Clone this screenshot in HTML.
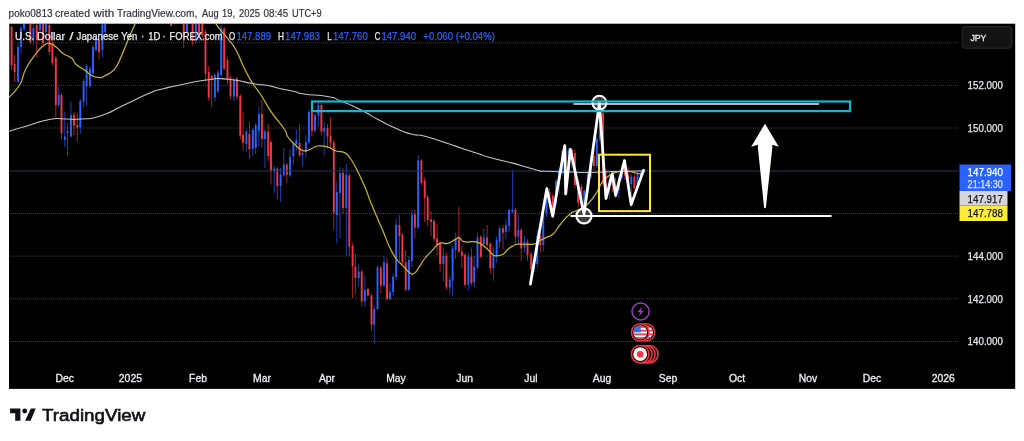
<!DOCTYPE html>
<html lang="en"><head><meta charset="utf-8"><title>USDJPY chart</title>
<style>html,body{margin:0;padding:0;background:#fff;}body{width:1024px;height:441px;overflow:hidden;position:relative;font-family:'Liberation Sans', Arial, sans-serif;}svg{display:block;position:absolute;left:0;top:0}text{font-family:'Liberation Sans', Arial, sans-serif;}</style></head><body>
<svg width="1024" height="441" viewBox="0 0 1024 441">
<rect x="0" y="0" width="1024" height="441" fill="#fff"/>
<text y="17.1" font-size="10.1" fill="#2a2e39" stroke="#2a2e39" stroke-width="0.15"><tspan x="8.6" textLength="43.9" lengthAdjust="spacingAndGlyphs">poko0813</tspan> <tspan x="55.1" textLength="34.9" lengthAdjust="spacingAndGlyphs">created</tspan> <tspan x="93.3" textLength="20.9" lengthAdjust="spacingAndGlyphs">with</tspan> <tspan x="117.1" textLength="80.2" lengthAdjust="spacingAndGlyphs">TradingView.com,</tspan> <tspan x="202.1" textLength="16.5" lengthAdjust="spacingAndGlyphs">Aug</tspan> <tspan x="222.1" textLength="13.1" lengthAdjust="spacingAndGlyphs">19,</tspan> <tspan x="239.1" textLength="21.0" lengthAdjust="spacingAndGlyphs">2025</tspan> <tspan x="263.6" textLength="24.7" lengthAdjust="spacingAndGlyphs">08:45</tspan> <tspan x="292.1" textLength="29.5" lengthAdjust="spacingAndGlyphs">UTC+9</tspan></text>
<rect x="9" y="23.7" width="1006.2" height="365.2" fill="#000"/>
<defs><clipPath id="cp"><rect x="9" y="24" width="950" height="365"/></clipPath></defs>
<line x1="9" y1="42.8" x2="959" y2="42.8" stroke="#3e3e3e" stroke-width="1" stroke-dasharray="1 1"/>
<line x1="9" y1="85.4" x2="959" y2="85.4" stroke="#3e3e3e" stroke-width="1" stroke-dasharray="1 1"/>
<line x1="9" y1="128" x2="959" y2="128" stroke="#3e3e3e" stroke-width="1" stroke-dasharray="1 1"/>
<line x1="9" y1="213.5" x2="959" y2="213.5" stroke="#3e3e3e" stroke-width="1" stroke-dasharray="1 1"/>
<line x1="9" y1="256.1" x2="959" y2="256.1" stroke="#3e3e3e" stroke-width="1" stroke-dasharray="1 1"/>
<line x1="9" y1="298.8" x2="959" y2="298.8" stroke="#3e3e3e" stroke-width="1" stroke-dasharray="1 1"/>
<line x1="9" y1="341.5" x2="959" y2="341.5" stroke="#3e3e3e" stroke-width="1" stroke-dasharray="1 1"/>
<g clip-path="url(#cp)">
<g>
<rect x="9" y="23.7" width="0.9" height="68" fill="#2962ff" opacity="0.75"/>
<line x1="11.6" y1="26.0" x2="11.6" y2="70.0" stroke="#f23645" stroke-width="0.9" opacity="0.75"/>
<rect x="10.65" y="27.0" width="1.9" height="38.0" fill="#f23645"/>
<line x1="14.6" y1="55.0" x2="14.6" y2="82.0" stroke="#f23645" stroke-width="0.9" opacity="0.75"/>
<rect x="13.65" y="64.0" width="1.9" height="8.0" fill="#f23645"/>
<line x1="18.0" y1="43.6" x2="18.0" y2="82.6" stroke="#2962ff" stroke-width="0.9" opacity="0.75"/>
<rect x="17.05" y="47.0" width="1.9" height="35.0" fill="#2962ff"/>
<line x1="21.0" y1="26.0" x2="21.0" y2="54.0" stroke="#2962ff" stroke-width="0.9" opacity="0.75"/>
<rect x="20.05" y="28.0" width="1.9" height="19.0" fill="#2962ff"/>
<line x1="24.0" y1="20.0" x2="24.0" y2="31.0" stroke="#2962ff" stroke-width="0.9" opacity="0.75"/>
<rect x="23.05" y="20.0" width="1.9" height="9.0" fill="#2962ff"/>
<line x1="30.4" y1="20.0" x2="30.4" y2="44.0" stroke="#f23645" stroke-width="0.9" opacity="0.75"/>
<rect x="29.45" y="20.0" width="1.9" height="22.0" fill="#f23645"/>
<line x1="33.4" y1="24.0" x2="33.4" y2="45.0" stroke="#2962ff" stroke-width="0.9" opacity="0.75"/>
<rect x="32.45" y="28.0" width="1.9" height="11.0" fill="#2962ff"/>
<line x1="36.7" y1="22.0" x2="36.7" y2="57.0" stroke="#f23645" stroke-width="0.9" opacity="0.75"/>
<rect x="35.75" y="25.0" width="1.9" height="15.0" fill="#f23645"/>
<line x1="40.0" y1="20.0" x2="40.0" y2="33.0" stroke="#2962ff" stroke-width="0.9" opacity="0.75"/>
<rect x="39.05" y="20.0" width="1.9" height="10.0" fill="#2962ff"/>
<line x1="43.0" y1="20.0" x2="43.0" y2="45.0" stroke="#f23645" stroke-width="0.9" opacity="0.75"/>
<rect x="42.05" y="20.0" width="1.9" height="23.0" fill="#f23645"/>
<line x1="46.0" y1="20.0" x2="46.0" y2="34.0" stroke="#2962ff" stroke-width="0.9" opacity="0.75"/>
<rect x="45.05" y="20.0" width="1.9" height="12.0" fill="#2962ff"/>
<line x1="49.4" y1="22.0" x2="49.4" y2="55.0" stroke="#f23645" stroke-width="0.9" opacity="0.75"/>
<rect x="48.45" y="25.0" width="1.9" height="27.0" fill="#f23645"/>
<line x1="52.4" y1="40.0" x2="52.4" y2="65.0" stroke="#f23645" stroke-width="0.9" opacity="0.75"/>
<rect x="51.45" y="43.0" width="1.9" height="20.0" fill="#f23645"/>
<line x1="55.8" y1="56.0" x2="55.8" y2="117.4" stroke="#f23645" stroke-width="0.9" opacity="0.75"/>
<rect x="54.85" y="58.0" width="1.9" height="47.0" fill="#f23645"/>
<line x1="58.7" y1="87.0" x2="58.7" y2="107.0" stroke="#2962ff" stroke-width="0.9" opacity="0.75"/>
<rect x="57.75" y="95.0" width="1.9" height="10.0" fill="#2962ff"/>
<line x1="61.5" y1="93.0" x2="61.5" y2="139.0" stroke="#f23645" stroke-width="0.9" opacity="0.75"/>
<rect x="60.55" y="95.0" width="1.9" height="38.0" fill="#f23645"/>
<line x1="64.8" y1="111.5" x2="64.8" y2="147.0" stroke="#2962ff" stroke-width="0.9" opacity="0.75"/>
<rect x="63.85" y="136.5" width="1.9" height="3.5" fill="#2962ff"/>
<line x1="67.5" y1="123.0" x2="67.5" y2="156.5" stroke="#2962ff" stroke-width="0.9" opacity="0.75"/>
<rect x="66.55" y="131.0" width="1.9" height="2.0" fill="#2962ff"/>
<line x1="71.0" y1="101.6" x2="71.0" y2="137.0" stroke="#2962ff" stroke-width="0.9" opacity="0.75"/>
<rect x="70.05" y="115.0" width="1.9" height="21.5" fill="#2962ff"/>
<line x1="74.0" y1="111.6" x2="74.0" y2="135.0" stroke="#f23645" stroke-width="0.9" opacity="0.75"/>
<rect x="73.05" y="115.0" width="1.9" height="10.7" fill="#f23645"/>
<line x1="77.3" y1="113.0" x2="77.3" y2="141.5" stroke="#f23645" stroke-width="0.9" opacity="0.75"/>
<rect x="76.35" y="125.0" width="1.9" height="2.4" fill="#f23645"/>
<line x1="80.3" y1="99.0" x2="80.3" y2="134.0" stroke="#2962ff" stroke-width="0.9" opacity="0.75"/>
<rect x="79.35" y="100.8" width="1.9" height="26.6" fill="#2962ff"/>
<line x1="83.6" y1="79.0" x2="83.6" y2="107.4" stroke="#2962ff" stroke-width="0.9" opacity="0.75"/>
<rect x="82.65" y="81.0" width="1.9" height="20.6" fill="#2962ff"/>
<line x1="86.6" y1="64.0" x2="86.6" y2="105.8" stroke="#2962ff" stroke-width="0.9" opacity="0.75"/>
<rect x="85.65" y="66.0" width="1.9" height="20.0" fill="#2962ff"/>
<line x1="90.0" y1="66.0" x2="90.0" y2="88.0" stroke="#2962ff" stroke-width="0.9" opacity="0.75"/>
<rect x="89.05" y="68.5" width="1.9" height="17.5" fill="#2962ff"/>
<line x1="93.0" y1="45.0" x2="93.0" y2="75.0" stroke="#2962ff" stroke-width="0.9" opacity="0.75"/>
<rect x="92.05" y="47.0" width="1.9" height="26.5" fill="#2962ff"/>
<line x1="96.0" y1="35.0" x2="96.0" y2="52.0" stroke="#2962ff" stroke-width="0.9" opacity="0.75"/>
<rect x="95.05" y="37.0" width="1.9" height="13.0" fill="#2962ff"/>
<line x1="99.0" y1="38.0" x2="99.0" y2="59.4" stroke="#f23645" stroke-width="0.9" opacity="0.75"/>
<rect x="98.05" y="40.0" width="1.9" height="12.0" fill="#f23645"/>
<line x1="102.4" y1="22.0" x2="102.4" y2="57.0" stroke="#2962ff" stroke-width="0.9" opacity="0.75"/>
<rect x="101.45" y="24.5" width="1.9" height="25.5" fill="#2962ff"/>
<line x1="105.2" y1="20.0" x2="105.2" y2="34.0" stroke="#2962ff" stroke-width="0.9" opacity="0.75"/>
<rect x="104.25" y="20.0" width="1.9" height="12.0" fill="#2962ff"/>
<line x1="171.0" y1="20.0" x2="171.0" y2="26.0" stroke="#f23645" stroke-width="0.9" opacity="0.75"/>
<rect x="170.05" y="20.0" width="1.9" height="6.0" fill="#f23645"/>
<line x1="183.7" y1="20.0" x2="183.7" y2="47.7" stroke="#f23645" stroke-width="0.9" opacity="0.75"/>
<rect x="182.75" y="20.0" width="1.9" height="15.3" fill="#f23645"/>
<line x1="187.0" y1="20.0" x2="187.0" y2="33.0" stroke="#2962ff" stroke-width="0.9" opacity="0.75"/>
<rect x="186.05" y="20.0" width="1.9" height="11.8" fill="#2962ff"/>
<line x1="192.6" y1="20.0" x2="192.6" y2="45.4" stroke="#f23645" stroke-width="0.9" opacity="0.75"/>
<rect x="191.65" y="20.0" width="1.9" height="20.6" fill="#f23645"/>
<line x1="195.8" y1="20.0" x2="195.8" y2="43.6" stroke="#2962ff" stroke-width="0.9" opacity="0.75"/>
<rect x="194.85" y="20.0" width="1.9" height="20.6" fill="#2962ff"/>
<line x1="199.0" y1="20.0" x2="199.0" y2="41.8" stroke="#f23645" stroke-width="0.9" opacity="0.75"/>
<rect x="198.05" y="20.0" width="1.9" height="14.0" fill="#f23645"/>
<line x1="202.3" y1="20.0" x2="202.3" y2="37.0" stroke="#f23645" stroke-width="0.9" opacity="0.75"/>
<rect x="201.35" y="20.0" width="1.9" height="15.3" fill="#f23645"/>
<line x1="205.5" y1="30.0" x2="205.5" y2="82.0" stroke="#f23645" stroke-width="0.9" opacity="0.75"/>
<rect x="204.55" y="31.8" width="1.9" height="41.7" fill="#f23645"/>
<line x1="208.7" y1="66.0" x2="208.7" y2="100.8" stroke="#f23645" stroke-width="0.9" opacity="0.75"/>
<rect x="207.75" y="72.0" width="1.9" height="25.5" fill="#f23645"/>
<line x1="211.7" y1="75.0" x2="211.7" y2="107.4" stroke="#f23645" stroke-width="0.9" opacity="0.75"/>
<rect x="210.75" y="76.0" width="1.9" height="4.0" fill="#f23645"/>
<line x1="214.9" y1="73.0" x2="214.9" y2="101.6" stroke="#2962ff" stroke-width="0.9" opacity="0.75"/>
<rect x="213.95" y="75.0" width="1.9" height="22.5" fill="#2962ff"/>
<line x1="217.9" y1="70.0" x2="217.9" y2="93.0" stroke="#2962ff" stroke-width="0.9" opacity="0.75"/>
<rect x="216.95" y="72.6" width="1.9" height="19.0" fill="#2962ff"/>
<line x1="221.2" y1="25.0" x2="221.2" y2="77.0" stroke="#2962ff" stroke-width="0.9" opacity="0.75"/>
<rect x="220.25" y="28.0" width="1.9" height="47.0" fill="#2962ff"/>
<line x1="224.2" y1="27.0" x2="224.2" y2="70.0" stroke="#f23645" stroke-width="0.9" opacity="0.75"/>
<rect x="223.25" y="28.6" width="1.9" height="39.9" fill="#f23645"/>
<line x1="227.5" y1="58.0" x2="227.5" y2="84.0" stroke="#f23645" stroke-width="0.9" opacity="0.75"/>
<rect x="226.55" y="60.0" width="1.9" height="20.0" fill="#f23645"/>
<line x1="230.5" y1="76.0" x2="230.5" y2="99.0" stroke="#f23645" stroke-width="0.9" opacity="0.75"/>
<rect x="229.55" y="77.6" width="1.9" height="18.2" fill="#f23645"/>
<line x1="234.0" y1="78.0" x2="234.0" y2="101.0" stroke="#2962ff" stroke-width="0.9" opacity="0.75"/>
<rect x="233.05" y="80.0" width="1.9" height="16.6" fill="#2962ff"/>
<line x1="237.0" y1="77.0" x2="237.0" y2="100.0" stroke="#f23645" stroke-width="0.9" opacity="0.75"/>
<rect x="236.05" y="78.5" width="1.9" height="18.1" fill="#f23645"/>
<line x1="240.3" y1="94.0" x2="240.3" y2="139.8" stroke="#f23645" stroke-width="0.9" opacity="0.75"/>
<rect x="239.35" y="95.8" width="1.9" height="39.9" fill="#f23645"/>
<line x1="243.1" y1="112.0" x2="243.1" y2="150.6" stroke="#f23645" stroke-width="0.9" opacity="0.75"/>
<rect x="242.15" y="135.0" width="1.9" height="8.0" fill="#f23645"/>
<line x1="246.4" y1="129.0" x2="246.4" y2="151.5" stroke="#2962ff" stroke-width="0.9" opacity="0.75"/>
<rect x="245.45" y="131.5" width="1.9" height="12.5" fill="#2962ff"/>
<line x1="249.4" y1="121.5" x2="249.4" y2="158.8" stroke="#f23645" stroke-width="0.9" opacity="0.75"/>
<rect x="248.45" y="134.0" width="1.9" height="15.0" fill="#f23645"/>
<line x1="252.8" y1="128.0" x2="252.8" y2="156.0" stroke="#2962ff" stroke-width="0.9" opacity="0.75"/>
<rect x="251.85" y="130.0" width="1.9" height="19.0" fill="#2962ff"/>
<line x1="255.7" y1="123.0" x2="255.7" y2="154.0" stroke="#2962ff" stroke-width="0.9" opacity="0.75"/>
<rect x="254.75" y="125.0" width="1.9" height="23.0" fill="#2962ff"/>
<line x1="258.9" y1="106.6" x2="258.9" y2="146.5" stroke="#2962ff" stroke-width="0.9" opacity="0.75"/>
<rect x="257.95" y="114.0" width="1.9" height="16.7" fill="#2962ff"/>
<line x1="261.9" y1="100.0" x2="261.9" y2="147.0" stroke="#f23645" stroke-width="0.9" opacity="0.75"/>
<rect x="260.95" y="114.0" width="1.9" height="25.0" fill="#f23645"/>
<line x1="264.9" y1="129.0" x2="264.9" y2="168.0" stroke="#2962ff" stroke-width="0.9" opacity="0.75"/>
<rect x="263.95" y="131.5" width="1.9" height="7.5" fill="#2962ff"/>
<line x1="268.2" y1="124.0" x2="268.2" y2="161.0" stroke="#f23645" stroke-width="0.9" opacity="0.75"/>
<rect x="267.25" y="131.5" width="1.9" height="24.5" fill="#f23645"/>
<line x1="271.0" y1="140.0" x2="271.0" y2="184.5" stroke="#f23645" stroke-width="0.9" opacity="0.75"/>
<rect x="270.05" y="142.0" width="1.9" height="29.0" fill="#f23645"/>
<line x1="274.3" y1="166.0" x2="274.3" y2="193.0" stroke="#2962ff" stroke-width="0.9" opacity="0.75"/>
<rect x="273.35" y="168.8" width="1.9" height="2.5" fill="#2962ff"/>
<line x1="277.3" y1="167.0" x2="277.3" y2="199.5" stroke="#f23645" stroke-width="0.9" opacity="0.75"/>
<rect x="276.35" y="168.8" width="1.9" height="17.2" fill="#f23645"/>
<line x1="280.6" y1="168.0" x2="280.6" y2="202.0" stroke="#2962ff" stroke-width="0.9" opacity="0.75"/>
<rect x="279.65" y="174.6" width="1.9" height="11.4" fill="#2962ff"/>
<line x1="283.8" y1="148.0" x2="283.8" y2="177.0" stroke="#2962ff" stroke-width="0.9" opacity="0.75"/>
<rect x="282.85" y="164.6" width="1.9" height="10.8" fill="#2962ff"/>
<line x1="286.8" y1="163.0" x2="286.8" y2="183.0" stroke="#f23645" stroke-width="0.9" opacity="0.75"/>
<rect x="285.85" y="164.6" width="1.9" height="10.0" fill="#f23645"/>
<line x1="290.0" y1="149.0" x2="290.0" y2="177.0" stroke="#2962ff" stroke-width="0.9" opacity="0.75"/>
<rect x="289.05" y="157.0" width="1.9" height="18.4" fill="#2962ff"/>
<line x1="293.4" y1="142.0" x2="293.4" y2="164.6" stroke="#2962ff" stroke-width="0.9" opacity="0.75"/>
<rect x="292.45" y="144.0" width="1.9" height="12.3" fill="#2962ff"/>
<line x1="296.3" y1="129.0" x2="296.3" y2="151.0" stroke="#2962ff" stroke-width="0.9" opacity="0.75"/>
<rect x="295.35" y="140.0" width="1.9" height="4.0" fill="#2962ff"/>
<line x1="299.6" y1="124.0" x2="299.6" y2="157.0" stroke="#f23645" stroke-width="0.9" opacity="0.75"/>
<rect x="298.65" y="143.0" width="1.9" height="12.5" fill="#f23645"/>
<line x1="302.6" y1="148.0" x2="302.6" y2="166.0" stroke="#2962ff" stroke-width="0.9" opacity="0.75"/>
<rect x="301.65" y="153.0" width="1.9" height="1.6" fill="#2962ff"/>
<line x1="305.9" y1="135.0" x2="305.9" y2="158.0" stroke="#2962ff" stroke-width="0.9" opacity="0.75"/>
<rect x="304.95" y="142.0" width="1.9" height="10.0" fill="#2962ff"/>
<line x1="308.9" y1="110.0" x2="308.9" y2="144.0" stroke="#2962ff" stroke-width="0.9" opacity="0.75"/>
<rect x="307.95" y="112.0" width="1.9" height="30.3" fill="#2962ff"/>
<line x1="311.9" y1="110.0" x2="311.9" y2="136.5" stroke="#f23645" stroke-width="0.9" opacity="0.75"/>
<rect x="310.95" y="112.0" width="1.9" height="18.7" fill="#f23645"/>
<line x1="315.0" y1="113.0" x2="315.0" y2="132.0" stroke="#2962ff" stroke-width="0.9" opacity="0.75"/>
<rect x="314.05" y="115.0" width="1.9" height="15.7" fill="#2962ff"/>
<line x1="318.4" y1="102.4" x2="318.4" y2="126.5" stroke="#2962ff" stroke-width="0.9" opacity="0.75"/>
<rect x="317.45" y="105.0" width="1.9" height="10.7" fill="#2962ff"/>
<line x1="321.4" y1="103.0" x2="321.4" y2="135.0" stroke="#f23645" stroke-width="0.9" opacity="0.75"/>
<rect x="320.45" y="105.0" width="1.9" height="26.5" fill="#f23645"/>
<line x1="324.2" y1="122.4" x2="324.2" y2="155.5" stroke="#2962ff" stroke-width="0.9" opacity="0.75"/>
<rect x="323.25" y="128.0" width="1.9" height="3.5" fill="#2962ff"/>
<line x1="327.5" y1="124.0" x2="327.5" y2="149.0" stroke="#f23645" stroke-width="0.9" opacity="0.75"/>
<rect x="326.55" y="128.0" width="1.9" height="8.5" fill="#f23645"/>
<line x1="330.5" y1="117.4" x2="330.5" y2="149.0" stroke="#f23645" stroke-width="0.9" opacity="0.75"/>
<rect x="329.55" y="135.7" width="1.9" height="7.3" fill="#f23645"/>
<line x1="333.8" y1="140.0" x2="333.8" y2="230.0" stroke="#f23645" stroke-width="0.9" opacity="0.75"/>
<rect x="332.85" y="142.3" width="1.9" height="70.5" fill="#f23645"/>
<line x1="336.8" y1="182.0" x2="336.8" y2="243.4" stroke="#2962ff" stroke-width="0.9" opacity="0.75"/>
<rect x="335.85" y="192.0" width="1.9" height="23.0" fill="#2962ff"/>
<line x1="340.0" y1="167.0" x2="340.0" y2="238.4" stroke="#2962ff" stroke-width="0.9" opacity="0.75"/>
<rect x="339.05" y="173.0" width="1.9" height="20.0" fill="#2962ff"/>
<line x1="343.0" y1="168.0" x2="343.0" y2="213.6" stroke="#f23645" stroke-width="0.9" opacity="0.75"/>
<rect x="342.05" y="173.0" width="1.9" height="34.8" fill="#f23645"/>
<line x1="346.3" y1="163.8" x2="346.3" y2="255.9" stroke="#2962ff" stroke-width="0.9" opacity="0.75"/>
<rect x="345.35" y="174.6" width="1.9" height="33.2" fill="#2962ff"/>
<line x1="349.3" y1="173.0" x2="349.3" y2="256.0" stroke="#f23645" stroke-width="0.9" opacity="0.75"/>
<rect x="348.35" y="175.4" width="1.9" height="71.3" fill="#f23645"/>
<line x1="352.6" y1="242.6" x2="352.6" y2="298.0" stroke="#f23645" stroke-width="0.9" opacity="0.75"/>
<rect x="351.65" y="246.0" width="1.9" height="20.6" fill="#f23645"/>
<line x1="355.4" y1="254.0" x2="355.4" y2="294.0" stroke="#f23645" stroke-width="0.9" opacity="0.75"/>
<rect x="354.45" y="266.6" width="1.9" height="11.4" fill="#f23645"/>
<line x1="358.7" y1="264.0" x2="358.7" y2="286.5" stroke="#2962ff" stroke-width="0.9" opacity="0.75"/>
<rect x="357.75" y="271.6" width="1.9" height="6.4" fill="#2962ff"/>
<line x1="361.7" y1="270.0" x2="361.7" y2="306.4" stroke="#f23645" stroke-width="0.9" opacity="0.75"/>
<rect x="360.75" y="271.6" width="1.9" height="29.8" fill="#f23645"/>
<line x1="364.9" y1="275.7" x2="364.9" y2="307.0" stroke="#2962ff" stroke-width="0.9" opacity="0.75"/>
<rect x="363.95" y="289.8" width="1.9" height="11.6" fill="#2962ff"/>
<line x1="367.9" y1="288.0" x2="367.9" y2="296.5" stroke="#f23645" stroke-width="0.9" opacity="0.75"/>
<rect x="366.95" y="289.0" width="1.9" height="6.6" fill="#f23645"/>
<line x1="371.5" y1="294.0" x2="371.5" y2="331.3" stroke="#f23645" stroke-width="0.9" opacity="0.75"/>
<rect x="370.55" y="295.6" width="1.9" height="29.1" fill="#f23645"/>
<line x1="374.2" y1="305.6" x2="374.2" y2="343.8" stroke="#2962ff" stroke-width="0.9" opacity="0.75"/>
<rect x="373.25" y="309.0" width="1.9" height="15.7" fill="#2962ff"/>
<line x1="377.5" y1="265.0" x2="377.5" y2="310.0" stroke="#2962ff" stroke-width="0.9" opacity="0.75"/>
<rect x="376.55" y="267.5" width="1.9" height="41.5" fill="#2962ff"/>
<line x1="380.8" y1="266.0" x2="380.8" y2="293.0" stroke="#f23645" stroke-width="0.9" opacity="0.75"/>
<rect x="379.85" y="267.5" width="1.9" height="18.1" fill="#f23645"/>
<line x1="384.0" y1="256.0" x2="384.0" y2="287.0" stroke="#2962ff" stroke-width="0.9" opacity="0.75"/>
<rect x="383.05" y="262.5" width="1.9" height="23.1" fill="#2962ff"/>
<line x1="387.0" y1="258.0" x2="387.0" y2="300.0" stroke="#f23645" stroke-width="0.9" opacity="0.75"/>
<rect x="386.05" y="263.3" width="1.9" height="35.7" fill="#f23645"/>
<line x1="390.0" y1="283.0" x2="390.0" y2="300.0" stroke="#2962ff" stroke-width="0.9" opacity="0.75"/>
<rect x="389.05" y="292.0" width="1.9" height="7.0" fill="#2962ff"/>
<line x1="393.1" y1="274.0" x2="393.1" y2="295.6" stroke="#2962ff" stroke-width="0.9" opacity="0.75"/>
<rect x="392.15" y="276.6" width="1.9" height="15.4" fill="#2962ff"/>
<line x1="396.1" y1="218.5" x2="396.1" y2="280.0" stroke="#2962ff" stroke-width="0.9" opacity="0.75"/>
<rect x="395.15" y="225.0" width="1.9" height="52.0" fill="#2962ff"/>
<line x1="399.4" y1="215.0" x2="399.4" y2="261.0" stroke="#f23645" stroke-width="0.9" opacity="0.75"/>
<rect x="398.45" y="225.0" width="1.9" height="11.0" fill="#f23645"/>
<line x1="402.4" y1="233.0" x2="402.4" y2="264.0" stroke="#f23645" stroke-width="0.9" opacity="0.75"/>
<rect x="401.45" y="235.0" width="1.9" height="27.5" fill="#f23645"/>
<line x1="405.7" y1="250.0" x2="405.7" y2="291.4" stroke="#f23645" stroke-width="0.9" opacity="0.75"/>
<rect x="404.75" y="262.5" width="1.9" height="27.3" fill="#f23645"/>
<line x1="408.9" y1="256.0" x2="408.9" y2="291.0" stroke="#2962ff" stroke-width="0.9" opacity="0.75"/>
<rect x="407.95" y="260.0" width="1.9" height="29.8" fill="#2962ff"/>
<line x1="411.9" y1="209.5" x2="411.9" y2="267.5" stroke="#2962ff" stroke-width="0.9" opacity="0.75"/>
<rect x="410.95" y="214.4" width="1.9" height="46.6" fill="#2962ff"/>
<line x1="414.9" y1="209.5" x2="414.9" y2="238.4" stroke="#f23645" stroke-width="0.9" opacity="0.75"/>
<rect x="413.95" y="214.4" width="1.9" height="13.2" fill="#f23645"/>
<line x1="418.2" y1="155.5" x2="418.2" y2="229.0" stroke="#2962ff" stroke-width="0.9" opacity="0.75"/>
<rect x="417.25" y="160.5" width="1.9" height="67.1" fill="#2962ff"/>
<line x1="421.4" y1="159.0" x2="421.4" y2="185.0" stroke="#f23645" stroke-width="0.9" opacity="0.75"/>
<rect x="420.45" y="160.5" width="1.9" height="22.5" fill="#f23645"/>
<line x1="424.7" y1="177.0" x2="424.7" y2="221.8" stroke="#f23645" stroke-width="0.9" opacity="0.75"/>
<rect x="423.75" y="180.4" width="1.9" height="17.4" fill="#f23645"/>
<line x1="427.7" y1="195.0" x2="427.7" y2="226.0" stroke="#f23645" stroke-width="0.9" opacity="0.75"/>
<rect x="426.75" y="197.0" width="1.9" height="23.0" fill="#f23645"/>
<line x1="431.0" y1="211.0" x2="431.0" y2="236.0" stroke="#f23645" stroke-width="0.9" opacity="0.75"/>
<rect x="430.05" y="219.4" width="1.9" height="2.6" fill="#f23645"/>
<line x1="434.0" y1="219.0" x2="434.0" y2="241.7" stroke="#f23645" stroke-width="0.9" opacity="0.75"/>
<rect x="433.05" y="221.0" width="1.9" height="18.0" fill="#f23645"/>
<line x1="437.1" y1="223.5" x2="437.1" y2="255.0" stroke="#f23645" stroke-width="0.9" opacity="0.75"/>
<rect x="436.15" y="238.4" width="1.9" height="6.6" fill="#f23645"/>
<line x1="440.1" y1="241.0" x2="440.1" y2="271.6" stroke="#f23645" stroke-width="0.9" opacity="0.75"/>
<rect x="439.15" y="243.4" width="1.9" height="20.6" fill="#f23645"/>
<line x1="443.4" y1="247.5" x2="443.4" y2="281.5" stroke="#2962ff" stroke-width="0.9" opacity="0.75"/>
<rect x="442.45" y="255.9" width="1.9" height="8.1" fill="#2962ff"/>
<line x1="446.4" y1="252.5" x2="446.4" y2="289.8" stroke="#f23645" stroke-width="0.9" opacity="0.75"/>
<rect x="445.45" y="255.9" width="1.9" height="31.4" fill="#f23645"/>
<line x1="449.8" y1="275.7" x2="449.8" y2="294.0" stroke="#2962ff" stroke-width="0.9" opacity="0.75"/>
<rect x="448.85" y="279.8" width="1.9" height="7.5" fill="#2962ff"/>
<line x1="452.6" y1="246.0" x2="452.6" y2="296.4" stroke="#2962ff" stroke-width="0.9" opacity="0.75"/>
<rect x="451.65" y="248.4" width="1.9" height="32.2" fill="#2962ff"/>
<line x1="455.6" y1="232.6" x2="455.6" y2="259.0" stroke="#2962ff" stroke-width="0.9" opacity="0.75"/>
<rect x="454.65" y="238.4" width="1.9" height="11.6" fill="#2962ff"/>
<line x1="458.9" y1="207.0" x2="458.9" y2="253.0" stroke="#f23645" stroke-width="0.9" opacity="0.75"/>
<rect x="457.95" y="238.4" width="1.9" height="13.3" fill="#f23645"/>
<line x1="461.9" y1="246.0" x2="461.9" y2="268.0" stroke="#f23645" stroke-width="0.9" opacity="0.75"/>
<rect x="460.95" y="251.7" width="1.9" height="4.2" fill="#f23645"/>
<line x1="465.0" y1="253.0" x2="465.0" y2="287.3" stroke="#f23645" stroke-width="0.9" opacity="0.75"/>
<rect x="464.05" y="255.0" width="1.9" height="29.8" fill="#f23645"/>
<line x1="468.4" y1="253.0" x2="468.4" y2="290.6" stroke="#2962ff" stroke-width="0.9" opacity="0.75"/>
<rect x="467.45" y="256.7" width="1.9" height="28.1" fill="#2962ff"/>
<line x1="471.4" y1="247.5" x2="471.4" y2="285.6" stroke="#f23645" stroke-width="0.9" opacity="0.75"/>
<rect x="470.45" y="256.7" width="1.9" height="26.3" fill="#f23645"/>
<line x1="474.2" y1="256.0" x2="474.2" y2="287.3" stroke="#2962ff" stroke-width="0.9" opacity="0.75"/>
<rect x="473.25" y="266.6" width="1.9" height="15.7" fill="#2962ff"/>
<line x1="477.5" y1="232.6" x2="477.5" y2="269.0" stroke="#2962ff" stroke-width="0.9" opacity="0.75"/>
<rect x="476.55" y="237.6" width="1.9" height="29.9" fill="#2962ff"/>
<line x1="480.8" y1="235.0" x2="480.8" y2="258.0" stroke="#f23645" stroke-width="0.9" opacity="0.75"/>
<rect x="479.85" y="236.7" width="1.9" height="20.0" fill="#f23645"/>
<line x1="483.8" y1="228.4" x2="483.8" y2="246.0" stroke="#2962ff" stroke-width="0.9" opacity="0.75"/>
<rect x="482.85" y="237.6" width="1.9" height="6.4" fill="#2962ff"/>
<line x1="487.1" y1="225.0" x2="487.1" y2="249.0" stroke="#f23645" stroke-width="0.9" opacity="0.75"/>
<rect x="486.15" y="237.6" width="1.9" height="7.4" fill="#f23645"/>
<line x1="490.3" y1="242.0" x2="490.3" y2="273.3" stroke="#f23645" stroke-width="0.9" opacity="0.75"/>
<rect x="489.35" y="244.0" width="1.9" height="24.3" fill="#f23645"/>
<line x1="493.4" y1="246.0" x2="493.4" y2="280.8" stroke="#2962ff" stroke-width="0.9" opacity="0.75"/>
<rect x="492.45" y="255.0" width="1.9" height="13.3" fill="#2962ff"/>
<line x1="496.6" y1="236.7" x2="496.6" y2="262.5" stroke="#2962ff" stroke-width="0.9" opacity="0.75"/>
<rect x="495.65" y="240.0" width="1.9" height="15.9" fill="#2962ff"/>
<line x1="499.6" y1="226.0" x2="499.6" y2="248.4" stroke="#2962ff" stroke-width="0.9" opacity="0.75"/>
<rect x="498.65" y="228.4" width="1.9" height="13.3" fill="#2962ff"/>
<line x1="503.0" y1="225.0" x2="503.0" y2="249.2" stroke="#f23645" stroke-width="0.9" opacity="0.75"/>
<rect x="502.05" y="228.4" width="1.9" height="4.2" fill="#f23645"/>
<line x1="505.9" y1="218.5" x2="505.9" y2="239.2" stroke="#2962ff" stroke-width="0.9" opacity="0.75"/>
<rect x="504.95" y="225.0" width="1.9" height="6.8" fill="#2962ff"/>
<line x1="509.1" y1="208.6" x2="509.1" y2="231.8" stroke="#2962ff" stroke-width="0.9" opacity="0.75"/>
<rect x="508.15" y="210.0" width="1.9" height="16.0" fill="#2962ff"/>
<line x1="512.4" y1="169.6" x2="512.4" y2="213.0" stroke="#2962ff" stroke-width="0.9" opacity="0.75"/>
<rect x="511.45" y="210.0" width="1.9" height="2.0" fill="#2962ff"/>
<line x1="515.4" y1="208.0" x2="515.4" y2="243.4" stroke="#f23645" stroke-width="0.9" opacity="0.75"/>
<rect x="514.45" y="209.5" width="1.9" height="27.2" fill="#f23645"/>
<line x1="518.4" y1="214.3" x2="518.4" y2="243.4" stroke="#2962ff" stroke-width="0.9" opacity="0.75"/>
<rect x="517.45" y="230.0" width="1.9" height="6.7" fill="#2962ff"/>
<line x1="521.2" y1="228.0" x2="521.2" y2="260.8" stroke="#f23645" stroke-width="0.9" opacity="0.75"/>
<rect x="520.25" y="230.0" width="1.9" height="18.4" fill="#f23645"/>
<line x1="524.5" y1="236.0" x2="524.5" y2="252.5" stroke="#2962ff" stroke-width="0.9" opacity="0.75"/>
<rect x="523.55" y="241.7" width="1.9" height="5.8" fill="#2962ff"/>
<line x1="527.5" y1="239.2" x2="527.5" y2="260.8" stroke="#f23645" stroke-width="0.9" opacity="0.75"/>
<rect x="526.55" y="241.7" width="1.9" height="13.3" fill="#f23645"/>
<line x1="531.2" y1="252.0" x2="531.2" y2="274.0" stroke="#f23645" stroke-width="0.9" opacity="0.75"/>
<rect x="530.25" y="254.2" width="1.9" height="14.8" fill="#f23645"/>
<line x1="534.2" y1="258.0" x2="534.2" y2="272.0" stroke="#2962ff" stroke-width="0.9" opacity="0.75"/>
<rect x="533.25" y="262.0" width="1.9" height="6.0" fill="#2962ff"/>
<line x1="537.3" y1="230.0" x2="537.3" y2="267.5" stroke="#2962ff" stroke-width="0.9" opacity="0.75"/>
<rect x="536.35" y="236.0" width="1.9" height="28.0" fill="#2962ff"/>
<line x1="540.3" y1="234.0" x2="540.3" y2="252.5" stroke="#f23645" stroke-width="0.9" opacity="0.75"/>
<rect x="539.35" y="236.0" width="1.9" height="9.0" fill="#f23645"/>
<line x1="543.3" y1="211.0" x2="543.3" y2="251.7" stroke="#2962ff" stroke-width="0.9" opacity="0.75"/>
<rect x="542.35" y="213.0" width="1.9" height="32.0" fill="#2962ff"/>
<line x1="546.5" y1="190.0" x2="546.5" y2="216.8" stroke="#2962ff" stroke-width="0.9" opacity="0.75"/>
<rect x="545.55" y="196.0" width="1.9" height="17.0" fill="#2962ff"/>
<line x1="549.5" y1="188.7" x2="549.5" y2="203.0" stroke="#f23645" stroke-width="0.9" opacity="0.75"/>
<rect x="548.55" y="192.0" width="1.9" height="8.0" fill="#f23645"/>
<line x1="552.8" y1="194.0" x2="552.8" y2="218.5" stroke="#f23645" stroke-width="0.9" opacity="0.75"/>
<rect x="551.85" y="196.0" width="1.9" height="20.0" fill="#f23645"/>
<line x1="556.1" y1="179.0" x2="556.1" y2="205.0" stroke="#2962ff" stroke-width="0.9" opacity="0.75"/>
<rect x="555.15" y="181.0" width="1.9" height="22.0" fill="#2962ff"/>
<line x1="559.1" y1="168.0" x2="559.1" y2="194.0" stroke="#2962ff" stroke-width="0.9" opacity="0.75"/>
<rect x="558.15" y="170.0" width="1.9" height="15.0" fill="#2962ff"/>
<line x1="562.3" y1="149.0" x2="562.3" y2="175.0" stroke="#2962ff" stroke-width="0.9" opacity="0.75"/>
<rect x="561.35" y="151.0" width="1.9" height="22.0" fill="#2962ff"/>
<line x1="565.2" y1="146.0" x2="565.2" y2="190.0" stroke="#f23645" stroke-width="0.9" opacity="0.75"/>
<rect x="564.25" y="150.0" width="1.9" height="20.0" fill="#f23645"/>
<line x1="568.6" y1="147.5" x2="568.6" y2="172.0" stroke="#2962ff" stroke-width="0.9" opacity="0.75"/>
<rect x="567.65" y="150.0" width="1.9" height="20.0" fill="#2962ff"/>
<line x1="571.9" y1="149.0" x2="571.9" y2="168.0" stroke="#f23645" stroke-width="0.9" opacity="0.75"/>
<rect x="570.95" y="150.0" width="1.9" height="8.0" fill="#f23645"/>
<line x1="574.9" y1="150.0" x2="574.9" y2="188.0" stroke="#f23645" stroke-width="0.9" opacity="0.75"/>
<rect x="573.95" y="153.0" width="1.9" height="32.0" fill="#f23645"/>
<line x1="578.2" y1="179.0" x2="578.2" y2="207.0" stroke="#f23645" stroke-width="0.9" opacity="0.75"/>
<rect x="577.25" y="181.0" width="1.9" height="22.0" fill="#f23645"/>
<line x1="581.4" y1="184.0" x2="581.4" y2="210.0" stroke="#f23645" stroke-width="0.9" opacity="0.75"/>
<rect x="580.45" y="186.5" width="1.9" height="13.0" fill="#f23645"/>
<line x1="584.3" y1="189.0" x2="584.3" y2="214.0" stroke="#2962ff" stroke-width="0.9" opacity="0.75"/>
<rect x="583.35" y="191.0" width="1.9" height="13.0" fill="#2962ff"/>
<line x1="587.7" y1="172.0" x2="587.7" y2="193.0" stroke="#2962ff" stroke-width="0.9" opacity="0.75"/>
<rect x="586.75" y="174.6" width="1.9" height="16.4" fill="#2962ff"/>
<line x1="590.7" y1="156.0" x2="590.7" y2="179.0" stroke="#2962ff" stroke-width="0.9" opacity="0.75"/>
<rect x="589.75" y="158.6" width="1.9" height="18.4" fill="#2962ff"/>
<line x1="593.8" y1="150.0" x2="593.8" y2="170.0" stroke="#f23645" stroke-width="0.9" opacity="0.75"/>
<rect x="592.85" y="156.0" width="1.9" height="10.0" fill="#f23645"/>
<line x1="596.8" y1="137.0" x2="596.8" y2="168.0" stroke="#2962ff" stroke-width="0.9" opacity="0.75"/>
<rect x="595.85" y="139.0" width="1.9" height="27.0" fill="#2962ff"/>
<line x1="599.9" y1="110.0" x2="599.9" y2="142.0" stroke="#2962ff" stroke-width="0.9" opacity="0.75"/>
<rect x="598.95" y="113.0" width="1.9" height="26.0" fill="#2962ff"/>
<line x1="603.1" y1="109.5" x2="603.1" y2="186.0" stroke="#f23645" stroke-width="0.9" opacity="0.75"/>
<rect x="602.15" y="113.0" width="1.9" height="71.0" fill="#f23645"/>
<line x1="606.3" y1="169.0" x2="606.3" y2="197.0" stroke="#f23645" stroke-width="0.9" opacity="0.75"/>
<rect x="605.35" y="184.0" width="1.9" height="6.0" fill="#f23645"/>
<line x1="609.4" y1="173.0" x2="609.4" y2="199.0" stroke="#2962ff" stroke-width="0.9" opacity="0.75"/>
<rect x="608.45" y="180.0" width="1.9" height="10.0" fill="#2962ff"/>
<line x1="612.5" y1="175.0" x2="612.5" y2="192.0" stroke="#f23645" stroke-width="0.9" opacity="0.75"/>
<rect x="611.55" y="180.0" width="1.9" height="5.0" fill="#f23645"/>
<line x1="615.6" y1="178.0" x2="615.6" y2="198.0" stroke="#f23645" stroke-width="0.9" opacity="0.75"/>
<rect x="614.65" y="185.0" width="1.9" height="5.5" fill="#f23645"/>
<line x1="618.8" y1="173.0" x2="618.8" y2="198.0" stroke="#2962ff" stroke-width="0.9" opacity="0.75"/>
<rect x="617.85" y="177.7" width="1.9" height="12.8" fill="#2962ff"/>
<line x1="621.9" y1="166.0" x2="621.9" y2="181.0" stroke="#2962ff" stroke-width="0.9" opacity="0.75"/>
<rect x="620.95" y="168.0" width="1.9" height="9.7" fill="#2962ff"/>
<line x1="625.0" y1="160.0" x2="625.0" y2="180.0" stroke="#f23645" stroke-width="0.9" opacity="0.75"/>
<rect x="624.05" y="168.0" width="1.9" height="7.5" fill="#f23645"/>
<line x1="628.2" y1="167.0" x2="628.2" y2="186.0" stroke="#f23645" stroke-width="0.9" opacity="0.75"/>
<rect x="627.25" y="175.5" width="1.9" height="8.5" fill="#f23645"/>
<line x1="631.3" y1="174.0" x2="631.3" y2="207.0" stroke="#2962ff" stroke-width="0.9" opacity="0.75"/>
<rect x="630.35" y="176.6" width="1.9" height="7.4" fill="#2962ff"/>
<line x1="634.4" y1="174.6" x2="634.4" y2="190.0" stroke="#f23645" stroke-width="0.9" opacity="0.75"/>
<rect x="633.45" y="176.6" width="1.9" height="11.4" fill="#f23645"/>
<line x1="637.5" y1="172.0" x2="637.5" y2="190.0" stroke="#2962ff" stroke-width="0.9" opacity="0.75"/>
<rect x="636.55" y="174.0" width="1.9" height="14.0" fill="#2962ff"/>
<line x1="640.7" y1="171.0" x2="640.7" y2="176.5" stroke="#2962ff" stroke-width="0.9" opacity="0.75"/>
<rect x="639.75" y="172.6" width="1.9" height="1.4" fill="#2962ff"/>
</g>
<line x1="9" y1="171" x2="959" y2="171" stroke="#18254f" stroke-width="1"/>
<line x1="9" y1="171" x2="959" y2="171" stroke="#3a5fd0" stroke-width="1" stroke-dasharray="1 1" opacity="0.45"/>
<path d="M8.0 131.5 C15.3 129.3 16.2 129.0 30.0 125.0 C43.8 121.0 37.8 121.4 49.5 119.4 C61.2 117.4 54.5 119.1 65.0 119.0 C75.5 118.9 69.0 120.1 81.0 119.0 C93.0 117.9 86.6 120.4 101.0 115.7 C115.4 111.0 108.2 112.5 124.3 105.0 C140.4 97.5 137.0 98.5 149.2 93.3 C161.4 88.1 151.4 91.9 161.0 89.3 C170.6 86.7 163.0 88.6 178.0 85.5 C193.0 82.4 189.3 82.1 206.0 80.0 C222.7 77.9 212.4 78.1 228.0 79.3 C243.6 80.5 239.5 81.4 252.7 83.5 C265.9 85.6 259.4 84.0 267.7 85.5 C276.0 87.0 268.8 86.0 277.7 88.0 C286.6 90.0 285.5 89.6 294.3 91.6 C303.1 93.6 292.9 92.3 304.0 94.0 C315.1 95.7 315.2 94.3 327.5 96.6 C339.8 98.9 329.8 96.5 341.0 101.0 C352.2 105.5 348.7 103.8 361.0 110.0 C373.3 116.2 367.0 113.7 378.0 119.5 C389.0 125.3 383.0 122.6 394.0 127.4 C405.0 132.2 401.0 131.1 411.0 134.0 C421.0 136.9 413.0 133.2 424.0 136.0 C435.0 138.8 431.7 138.3 444.0 142.3 C456.3 146.3 449.7 144.3 461.0 148.0 C472.3 151.7 469.0 150.5 478.0 153.5 C487.0 156.5 479.0 154.4 488.0 157.0 C497.0 159.6 494.0 158.5 505.0 161.3 C516.0 164.1 510.0 162.4 521.0 165.4 C532.0 168.4 529.7 168.4 538.0 170.4 C546.3 172.4 535.0 170.8 546.0 171.3 C557.0 171.8 557.0 171.6 571.0 172.0 C585.0 172.4 571.3 172.7 588.0 172.5 C604.7 172.3 602.0 171.8 621.0 171.3 C640.0 170.8 637.0 171.1 645.0 171.0" fill="none" stroke="#c4c7ce" stroke-width="1.05" stroke-linejoin="round"/>
<path d="M8.0 98.3 C11.1 94.8 14.8 92.9 19.6 85.0 C24.4 77.1 21.6 76.9 26.0 68.5 C30.4 60.1 31.1 59.8 36.0 53.5 C40.9 47.2 40.8 47.6 44.5 45.0 C48.2 42.4 46.9 43.1 50.0 43.6 C53.1 44.1 52.5 44.4 56.0 47.0 C59.5 49.6 58.9 50.6 63.0 53.5 C67.1 56.4 68.0 55.1 71.5 58.0 C75.0 60.9 72.1 60.8 76.0 64.3 C79.9 67.8 82.0 68.1 86.0 71.0 C90.0 73.9 87.4 73.4 91.0 75.2 C94.6 77.0 95.8 77.4 99.4 77.6 C103.0 77.8 100.4 78.2 104.4 76.0 C108.4 73.8 109.9 74.4 114.3 69.3 C118.7 64.2 117.5 64.4 121.0 56.9 C124.5 49.4 123.9 49.8 127.6 41.0 C131.3 32.2 131.2 32.8 135.0 24.0 C138.8 15.2 140.1 12.3 142.0 8.0" fill="none" stroke="#cdbb22" stroke-width="1.2" stroke-linejoin="round"/>
<path d="M209.0 8.0 C210.7 12.0 210.4 14.8 215.4 23.0 C220.4 31.2 222.3 31.4 227.8 38.6 C233.3 45.8 231.6 42.0 236.0 50.0 C240.4 58.0 239.9 59.6 244.4 68.5 C248.9 77.4 248.3 76.4 252.7 83.5 C257.1 90.6 256.1 87.5 261.0 95.0 C265.9 102.5 264.8 102.5 271.0 111.6 C277.2 120.7 279.9 122.4 284.3 129.0 C288.7 135.6 284.9 132.5 287.6 136.5 C290.3 140.5 290.7 140.5 294.3 144.0 C297.9 147.5 297.9 148.0 301.0 149.8 C304.1 151.6 303.3 150.8 306.0 150.6 C308.7 150.4 307.9 150.2 311.0 149.0 C314.1 147.8 313.1 146.6 317.5 146.0 C321.9 145.4 322.6 145.5 327.5 146.8 C332.4 148.1 331.4 149.5 336.0 151.0 C340.6 152.5 340.9 150.7 344.6 152.6 C348.3 154.5 347.0 153.9 350.0 158.0 C353.0 162.1 352.1 160.5 356.0 168.0 C359.9 175.5 360.5 176.7 364.5 186.0 C368.5 195.3 367.2 193.7 371.0 203.0 C374.8 212.3 375.4 213.5 378.6 221.0 C381.8 228.5 380.0 223.8 383.0 231.0 C386.0 238.2 386.4 240.5 390.0 248.0 C393.6 255.5 392.9 254.3 396.4 259.0 C399.9 263.7 399.5 262.2 403.0 265.8 C406.5 269.4 406.4 270.5 409.4 272.5 C412.4 274.5 411.7 274.9 414.4 273.3 C417.1 271.7 416.7 270.4 419.4 266.6 C422.1 262.8 421.1 263.2 424.4 259.0 C427.7 254.8 427.6 255.1 431.7 250.9 C435.8 246.7 435.4 245.4 439.6 243.4 C443.8 241.4 443.3 244.5 447.6 243.4 C451.9 242.3 452.5 240.7 455.6 239.2 C458.7 237.7 457.0 236.9 459.2 237.6 C461.4 238.3 460.2 240.6 464.0 241.7 C467.8 242.8 469.0 241.2 473.3 241.7 C477.6 242.2 476.2 241.4 480.0 243.4 C483.8 245.4 484.2 246.3 487.5 249.2 C490.8 252.1 490.2 252.4 492.5 254.2 C494.8 256.0 493.5 255.9 496.3 255.9 C499.1 255.9 499.9 256.0 503.0 254.2 C506.1 252.4 505.3 251.4 508.0 249.2 C510.7 247.0 510.3 247.3 513.0 246.0 C515.7 244.7 512.7 244.7 518.0 244.2 C523.3 243.7 527.7 244.9 533.0 244.2 C538.3 243.5 534.5 243.5 538.0 241.7 C541.5 239.9 542.1 239.6 546.0 237.6 C549.9 235.6 549.6 237.0 552.8 234.3 C556.0 231.6 554.9 231.6 558.0 227.6 C561.1 223.6 560.9 223.1 564.4 219.3 C567.9 215.5 568.7 215.4 571.0 213.5 C573.3 211.6 569.8 213.5 573.0 212.0 C576.2 210.5 578.5 210.5 583.0 207.8 C587.5 205.1 586.2 205.9 589.7 202.0 C593.2 198.1 592.8 198.6 596.3 193.0 C599.8 187.4 599.1 185.9 603.0 181.0 C606.9 176.1 607.0 177.0 611.0 174.6 C615.0 172.2 613.5 172.9 618.0 172.0 C622.5 171.1 623.2 171.0 628.0 171.3 C632.8 171.6 632.0 172.1 636.0 173.0 C640.0 173.9 641.1 174.2 643.0 174.6" fill="none" stroke="#cdbb22" stroke-width="1.2" stroke-linejoin="round"/>

<circle cx="584" cy="215.9" r="7.5" fill="#3d3d3d" stroke="#fff" stroke-width="2.3"/>
<circle cx="599.4" cy="102.8" r="7" fill="#3c3c3c" stroke="#fff" stroke-width="2"/>
<line x1="570.5" y1="215.9" x2="831.5" y2="215.9" stroke="#fff" stroke-width="2"/>
<polyline points="530.4,284.0 546.8,188.7 552.7,216.2 564.8,145.6 565.7,193.9 570.4,149.3 584.0,214.0 599.4,103.0 606.0,198.5 612.3,173.7 615.6,195.3 624.5,160.5 631.2,204.6 643.5,170.4" fill="none" stroke="#fff" stroke-width="2.8" stroke-linejoin="round" stroke-linecap="round"/>
<rect x="312" y="101.5" width="538" height="9.6" fill="none" stroke="#10b8d0" stroke-width="2.2"/>
<line x1="573.5" y1="104" x2="819" y2="104" stroke="#f0f0f0" stroke-width="1.3"/>
<rect x="599" y="154.7" width="51" height="56.4" fill="none" stroke="#ffe733" stroke-width="2"/>
<path d="M765 123.7 L778.8 146.8 L772.3 144.7 L772.3 148 L765.9 207.5 Q765 208.9 764.1 207.5 L757.9 148 L757.9 144.7 L751.2 146.8 Z" fill="#fff"/>
<g>
<circle cx="640.6" cy="311.5" r="8.6" fill="#000" stroke="#9c3fc4" stroke-width="1.5"/>
<path d="M642.6 306.6 L637.2 312.2 L640.4 312.2 L638.6 316.4 L644 310.8 L640.8 310.8 Z" fill="#9c3fc4"/>
<circle cx="646.0" cy="332.4" r="8.7" fill="#000" stroke="#f23645" stroke-width="1.5"/>
<clipPath id="us646"><circle cx="646.0" cy="332.4" r="6.9"/></clipPath>
<g clip-path="url(#us646)"><rect x="639.0" y="325" width="14" height="15" fill="#fff"/>
<rect x="639.0" y="326.00" width="14" height="1.85" fill="#ec3f4c"/>
<rect x="639.0" y="329.70" width="14" height="1.85" fill="#ec3f4c"/>
<rect x="639.0" y="333.40" width="14" height="1.85" fill="#ec3f4c"/>
<rect x="639.0" y="337.10" width="14" height="1.85" fill="#ec3f4c"/>
<rect x="639.0" y="325" width="7.5" height="7.4" fill="#3d6fe0"/></g>
<circle cx="640.2" cy="332.4" r="8.7" fill="#000" stroke="#f23645" stroke-width="1.5"/>
<clipPath id="us640"><circle cx="640.2" cy="332.4" r="6.9"/></clipPath>
<g clip-path="url(#us640)"><rect x="633.2" y="325" width="14" height="15" fill="#fff"/>
<rect x="633.2" y="326.00" width="14" height="1.85" fill="#ec3f4c"/>
<rect x="633.2" y="329.70" width="14" height="1.85" fill="#ec3f4c"/>
<rect x="633.2" y="333.40" width="14" height="1.85" fill="#ec3f4c"/>
<rect x="633.2" y="337.10" width="14" height="1.85" fill="#ec3f4c"/>
<rect x="633.2" y="325" width="7.5" height="7.4" fill="#3d6fe0"/></g>
<circle cx="649.4" cy="354.2" r="8.7" fill="#000" stroke="#f23645" stroke-width="1.5"/>
<circle cx="646.4" cy="354.2" r="8.7" fill="#000" stroke="#f23645" stroke-width="1.5"/>
<circle cx="643.4" cy="354.2" r="8.7" fill="#000" stroke="#f23645" stroke-width="1.5"/>
<circle cx="640.2" cy="354.2" r="8.7" fill="#000" stroke="#f23645" stroke-width="1.5"/>
<circle cx="640.2" cy="354.2" r="6.9" fill="#f4f4f4"/><circle cx="640.2" cy="354.2" r="3.3" fill="#f23645"/>
</g>
</g>
<text y="39.9" font-size="10.3" fill="#eceef2" stroke="#eceef2" stroke-width="0.25"><tspan x="15.1" textLength="19.1" lengthAdjust="spacingAndGlyphs">U.S.</tspan> <tspan x="37.1" textLength="27.9" lengthAdjust="spacingAndGlyphs">Dollar</tspan> <tspan x="69.6" textLength="3.9" lengthAdjust="spacingAndGlyphs">/</tspan> <tspan x="76.6" textLength="41.9" lengthAdjust="spacingAndGlyphs">Japanese</tspan> <tspan x="121.3" textLength="16.1" lengthAdjust="spacingAndGlyphs">Yen</tspan> <tspan x="141.2" textLength="2.9" lengthAdjust="spacingAndGlyphs">·</tspan> <tspan x="148.3" textLength="12.2" lengthAdjust="spacingAndGlyphs">1D</tspan> <tspan x="162.4" textLength="2.9" lengthAdjust="spacingAndGlyphs">·</tspan> <tspan x="169.6" textLength="52.9" lengthAdjust="spacingAndGlyphs">FOREX.com</tspan></text>
<text x="229" y="39.9" font-size="10.5" fill="#eceef2" stroke="#eceef2" stroke-width="0.25" textLength="6.2" lengthAdjust="spacingAndGlyphs">O</text>
<text x="236.4" y="39.9" font-size="10.5" fill="#2962ff" stroke="#2962ff" stroke-width="0.25" textLength="34.8" lengthAdjust="spacingAndGlyphs">147.889</text>
<text x="278" y="39.9" font-size="10.5" fill="#eceef2" stroke="#eceef2" stroke-width="0.25" textLength="6" lengthAdjust="spacingAndGlyphs">H</text>
<text x="285" y="39.9" font-size="10.5" fill="#2962ff" stroke="#2962ff" stroke-width="0.25" textLength="35" lengthAdjust="spacingAndGlyphs">147.983</text>
<text x="327.2" y="39.9" font-size="10.5" fill="#eceef2" stroke="#eceef2" stroke-width="0.25" textLength="4.6" lengthAdjust="spacingAndGlyphs">L</text>
<text x="333" y="39.9" font-size="10.5" fill="#2962ff" stroke="#2962ff" stroke-width="0.25" textLength="34.8" lengthAdjust="spacingAndGlyphs">147.760</text>
<text x="374.7" y="39.9" font-size="10.5" fill="#eceef2" stroke="#eceef2" stroke-width="0.25" textLength="5.6" lengthAdjust="spacingAndGlyphs">C</text>
<text x="381.4" y="39.9" font-size="10.5" fill="#2962ff" stroke="#2962ff" stroke-width="0.25" textLength="34.8" lengthAdjust="spacingAndGlyphs">147.940</text>
<text x="423.3" y="39.9" font-size="10.5" fill="#2962ff" stroke="#2962ff" stroke-width="0.25" textLength="71.7" lengthAdjust="spacingAndGlyphs">+0.060 (+0.04%)</text>
<rect x="962.2" y="26.6" width="49.6" height="21.6" rx="3" fill="#131313" stroke="#2e2e2e" stroke-width="1"/>
<text x="970.4" y="40.9" font-size="9.5" fill="#e6e8ee" stroke="#e6e8ee" stroke-width="0.35" textLength="16" lengthAdjust="spacingAndGlyphs">JPY</text>
<text x="967.6" y="89.4" font-size="10.4" fill="#e6e8ee" stroke="#e6e8ee" stroke-width="0.25" textLength="35.3" lengthAdjust="spacingAndGlyphs">152.000</text>
<text x="967.6" y="131.89999999999998" font-size="10.4" fill="#e6e8ee" stroke="#e6e8ee" stroke-width="0.25" textLength="35.3" lengthAdjust="spacingAndGlyphs">150.000</text>
<text x="967.6" y="260.0" font-size="10.4" fill="#e6e8ee" stroke="#e6e8ee" stroke-width="0.25" textLength="35.3" lengthAdjust="spacingAndGlyphs">144.000</text>
<text x="967.6" y="302.7" font-size="10.4" fill="#e6e8ee" stroke="#e6e8ee" stroke-width="0.25" textLength="35.3" lengthAdjust="spacingAndGlyphs">142.000</text>
<text x="967.6" y="345.4" font-size="10.4" fill="#e6e8ee" stroke="#e6e8ee" stroke-width="0.25" textLength="35.3" lengthAdjust="spacingAndGlyphs">140.000</text>
<rect x="959.5" y="164.5" width="51.5" height="26.5" fill="#2962ff"/>
<text x="967.6" y="176.4" font-size="10.4" fill="#fff" stroke="#fff" stroke-width="0.25" textLength="35.3" lengthAdjust="spacingAndGlyphs">147.940</text>
<text x="967.6" y="188.2" font-size="10.4" fill="#dfe6ff" stroke="#dfe6ff" stroke-width="0.25" textLength="35.3" lengthAdjust="spacingAndGlyphs">21:14:30</text>
<rect x="959.5" y="191" width="48" height="14.6" fill="#d4d6dc"/>
<text x="967.6" y="203" font-size="10.4" fill="#131722" stroke="#131722" stroke-width="0.25" textLength="35.3" lengthAdjust="spacingAndGlyphs">147.917</text>
<rect x="959.5" y="205.6" width="48" height="15.4" fill="#ffeb3b"/>
<text x="967.6" y="217.3" font-size="10.4" fill="#131722" stroke="#131722" stroke-width="0.25" textLength="35.3" lengthAdjust="spacingAndGlyphs">147.788</text>
<text x="64.7" y="381.6" font-size="10.4" fill="#eceef2" stroke="#eceef2" stroke-width="0.3" text-anchor="middle">Dec</text>
<text x="130.4" y="381.6" font-size="10.4" fill="#eceef2" stroke="#eceef2" stroke-width="0.3" text-anchor="middle">2025</text>
<text x="198" y="381.6" font-size="10.4" fill="#eceef2" stroke="#eceef2" stroke-width="0.3" text-anchor="middle">Feb</text>
<text x="262" y="381.6" font-size="10.4" fill="#eceef2" stroke="#eceef2" stroke-width="0.3" text-anchor="middle">Mar</text>
<text x="327" y="381.6" font-size="10.4" fill="#eceef2" stroke="#eceef2" stroke-width="0.3" text-anchor="middle">Apr</text>
<text x="396" y="381.6" font-size="10.4" fill="#eceef2" stroke="#eceef2" stroke-width="0.3" text-anchor="middle">May</text>
<text x="464.7" y="381.6" font-size="10.4" fill="#eceef2" stroke="#eceef2" stroke-width="0.3" text-anchor="middle">Jun</text>
<text x="531" y="381.6" font-size="10.4" fill="#eceef2" stroke="#eceef2" stroke-width="0.3" text-anchor="middle">Jul</text>
<text x="602" y="381.6" font-size="10.4" fill="#eceef2" stroke="#eceef2" stroke-width="0.3" text-anchor="middle">Aug</text>
<text x="668" y="381.6" font-size="10.4" fill="#eceef2" stroke="#eceef2" stroke-width="0.3" text-anchor="middle">Sep</text>
<text x="737" y="381.6" font-size="10.4" fill="#eceef2" stroke="#eceef2" stroke-width="0.3" text-anchor="middle">Oct</text>
<text x="808" y="381.6" font-size="10.4" fill="#eceef2" stroke="#eceef2" stroke-width="0.3" text-anchor="middle">Nov</text>
<text x="872" y="381.6" font-size="10.4" fill="#eceef2" stroke="#eceef2" stroke-width="0.3" text-anchor="middle">Dec</text>
<text x="943.3" y="381.6" font-size="10.4" fill="#eceef2" stroke="#eceef2" stroke-width="0.3" text-anchor="middle">2026</text>
<g fill="#0e1016"><path d="M10.1 408.5 H20.4 V420.7 H15.2 V413.2 H10.1 Z"/><circle cx="24.7" cy="411" r="2.45"/><path d="M30.8 408.5 H35.7 L30.6 420.7 H25.1 Z"/></g>
<text x="42.0" y="421" font-size="16.6" fill="#0e1016" stroke="#0e1016" stroke-width="0.6" textLength="103.4" lengthAdjust="spacingAndGlyphs">TradingView</text>
</svg></body></html>
